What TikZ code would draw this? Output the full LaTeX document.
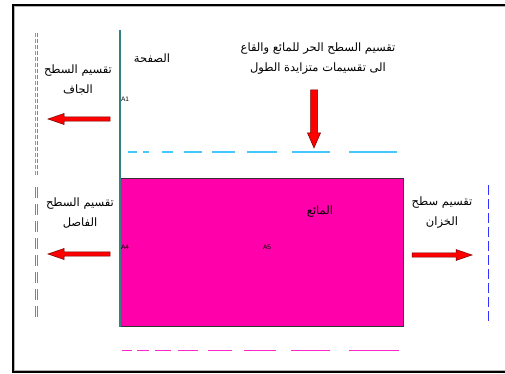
\documentclass[tikz,border=0pt]{standalone}
\usepackage{fontspec}
\setmainfont{Liberation Sans}
\newfontfamily\arabicfont[Script=Arabic]{DejaVu Sans}
\TeXXeTstate=1
\definecolor{tealline}{RGB}{50,128,128}
\definecolor{fluid}{RGB}{255,0,170}
\definecolor{cyandash}{RGB}{70,200,255}
\definecolor{pinkdash}{RGB}{255,40,200}
\definecolor{lcyan}{RGB}{60,180,255}
\definecolor{lviolet}{RGB}{190,80,255}
\definecolor{lsalmon}{RGB}{255,70,100}
\definecolor{bluedash}{RGB}{50,50,255}
\begin{document}
\begin{tikzpicture}[x=1pt,y=-1pt,
  ar/.style={font=\arabicfont\fontsize{11.5}{20}\selectfont, align=center, inner sep=0pt},
  lab/.style={font=\fontsize{6.5}{7}\selectfont, inner sep=0pt},
  arrowfill/.style={fill=red, draw=red!45!black, line width=0.5pt},
  thindash/.style={line width=1pt}]
\clip (0,0) rectangle (505,374);
\fill[white] (0,0) rectangle (505,374);
% frame
\draw[gray!60, line width=0.8pt] (520,6.8) -- (14.8,6.8) -- (14.8,370.2) -- (520,370.2);
\draw[line width=1.5pt] (520,5) -- (13,5) -- (13,372) -- (520,372);
% left dashed double lines
\draw[thindash, lcyan, dash pattern=on 4pt off 2pt] (35,33) -- (35,176);
\draw[thindash, lviolet, dash pattern=on 4pt off 2pt] (37,33) -- (37,176);
\draw[thindash, lsalmon, dash pattern=on 11pt off 6pt] (35,187) -- (35,318);
\draw[thindash, lviolet, dash pattern=on 11pt off 6pt] (37,187) -- (37,318);
% fluid rectangle
\node[draw=gray!40!black, fill=fluid, line width=0.8pt, minimum width=283pt, minimum height=148pt, inner sep=0pt, anchor=north west] (fluidbox) at (120,178) {};
% wall line
\draw[tealline, line width=2pt] (120,30) -- (120,327);
% cyan dashes
\foreach \a/\b in {128/137,143/149,162/173,184/202,212/235,247/277,292/330,349/397}
  \draw[cyandash, line width=1.4pt] (\a,152) -- (\b,152);
% pink dashes
\foreach \a/\b in {122/132,137/149,155/171,178/198,208/232,244/276,291/330,349/399}
  \draw[pinkdash, line width=1pt] (\a,350) -- (\b,350);
% blue dashed right
\draw[bluedash, line width=1pt, dash pattern=on 10pt off 4pt] (488,185) -- (488,325);
% arrows
\draw[arrowfill] (110,116.8) -- (64,116.8) -- (64,113.5) -- (48,119) -- (64,124.5) -- (64,121.2) -- (110,121.2) -- cycle;
\draw[arrowfill] (110,251.8) -- (64,251.8) -- (64,248.5) -- (48,254) -- (64,259.5) -- (64,256.2) -- (110,256.2) -- cycle;
\draw[arrowfill] (412,252.8) -- (456,252.8) -- (456,249.5) -- (472,255) -- (456,260.5) -- (456,257.2) -- (412,257.2) -- cycle;
\draw[arrowfill] (310.5,90) -- (317.5,90) -- (317.5,133) -- (320.5,133) -- (314,148) -- (307.5,133) -- (310.5,133) -- cycle;
% texts
\node[ar] (page) at (152,58) {\beginR الصفحة\endR};
\node[ar] (drytxt) at (78,80) {\beginR تقسيم السطح\endR\\\beginR الجاف\endR};
\node[ar] (toptxt) at (318,59) {\beginR تقسيم السطح الحر للمائع والقاع\endR\\\beginR الى تقسيمات متزايدة الطول\endR};
\node[ar] (ifacetxt) at (80,213) {\beginR تقسيم السطح\endR\\\beginR الفاصل\endR};
\node[ar] (tanktxt) at (442,213) {\beginR تقسيم سطح\endR\\\beginR الخزان\endR};
\node[ar] (fluidtxt) at (320,212) {\beginR المائع\endR};
\node[lab] (a1) at (125,99) {A1};
\node[lab] (a4) at (125,247) {A4};
\node[lab] (a5) at (267,247) {A5};
\end{tikzpicture}
\end{document}
